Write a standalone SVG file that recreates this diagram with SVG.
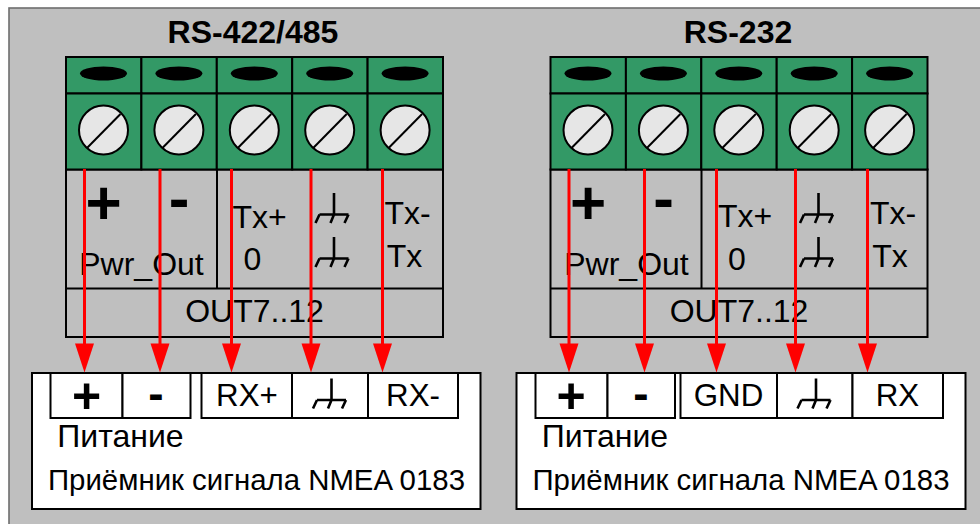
<svg xmlns="http://www.w3.org/2000/svg" width="980" height="524" viewBox="0 0 980 524">
<style>
text{font-family:"Liberation Sans",Arial,sans-serif;font-size:32px;fill:#000;text-anchor:middle}
.b{font-weight:bold}
.pl{font-weight:bold;font-size:62px}
.mi{font-weight:bold;font-size:62px}
.rpl{font-weight:bold;font-size:50px}
.rmi{font-weight:bold;font-size:46px}
.sm{font-size:31.3px}
.pt{font-size:32px}
.nm{font-size:29.4px}
.ln{fill:none;stroke:#000;stroke-width:2}
.g{fill:#339966;stroke:#000;stroke-width:2}
.w{fill:#fff;stroke:#000;stroke-width:2}
.wire{fill:none;stroke:#f00;stroke-width:3}
.gnd{fill:none;stroke:#000;stroke-width:2.6}
</style>
<defs>
<g id="slot"><rect class="g" width="75.4" height="36.5"/><ellipse cx="37.5" cy="16.5" rx="23.5" ry="7" fill="#000"/></g>
<g id="screw"><rect class="g" width="75.4" height="76"/><circle cx="37.5" cy="36.5" r="24.5" fill="#e6e6e6" stroke="#000" stroke-width="2"/><path d="M21 54.5L54.5 20.5" stroke="#000" stroke-width="2"/></g>
<path id="ground" class="gnd" d="M0 0V21.5L-3.5 30M-14.5 21.5H14.5M-14.5 21.5L-18.5 30M14.5 21.5L10.5 30"/>
<path id="head" d="M-9.5 0H9.5L0 29Z" fill="#f00"/>
</defs>
<rect x="9" y="8" width="980" height="530" fill="#bfbfbf" stroke="#6e6e6e" stroke-width="1.6"/>
<text id="title-left" class="b" x="253" y="43">RS-422/485</text>
<text id="title-right" class="b" x="738" y="43">RS-232</text>

<g id="block-left">
<rect class="ln" x="66" y="169.5" width="377" height="167.5"/>
<path class="ln" d="M66 288.5H443M217 169.5V288.5"/>
<use href="#slot" x="66" y="57"/><use href="#slot" x="141.4" y="57"/><use href="#slot" x="216.8" y="57"/><use href="#slot" x="292.2" y="57"/><use href="#slot" x="367.6" y="57"/>
<use href="#screw" x="66" y="93.5"/><use href="#screw" x="141.4" y="93.5"/><use href="#screw" x="216.8" y="93.5"/><use href="#screw" x="292.2" y="93.5"/><use href="#screw" x="367.6" y="93.5"/>
<text class="pl" x="103.5" y="224">+</text>
<text class="mi" x="179" y="219">-</text>
<text x="259.5" y="228">Tx+</text>
<text x="252.5" y="270">0</text>
<text x="407.5" y="224">Tx-</text>
<text x="404.5" y="267">Tx</text>
<use href="#ground" x="334" y="193"/><use href="#ground" x="334" y="237"/>
<text x="141.5" y="275">Pwr_Out</text>
<text x="254.5" y="322">OUT7..12</text>
</g>

<g id="block-right">
<rect class="ln" x="550.5" y="169.5" width="377" height="167.5"/>
<path class="ln" d="M550.5 288.5H927.5M701.5 169.5V288.5"/>
<use href="#slot" x="550.5" y="57"/><use href="#slot" x="625.9" y="57"/><use href="#slot" x="701.3" y="57"/><use href="#slot" x="776.7" y="57"/><use href="#slot" x="852.1" y="57"/>
<use href="#screw" x="550.5" y="93.5"/><use href="#screw" x="625.9" y="93.5"/><use href="#screw" x="701.3" y="93.5"/><use href="#screw" x="776.7" y="93.5"/><use href="#screw" x="852.1" y="93.5"/>
<text class="pl" x="588" y="224">+</text>
<text class="mi" x="663.5" y="219">-</text>
<text x="745" y="227">Tx+</text>
<text x="737" y="270">0</text>
<text x="893" y="224">Tx-</text>
<text x="890" y="267">Tx</text>
<use href="#ground" x="818.5" y="193"/><use href="#ground" x="818.5" y="237"/>
<text x="626.5" y="275">Pwr_Out</text>
<text x="739" y="322">OUT7..12</text>
</g>

<g id="receiver-left">
<rect class="w" x="32" y="373" width="448.5" height="136"/>
<rect class="w" x="50.5" y="373" width="72" height="45"/><rect class="w" x="122.5" y="373" width="68" height="45"/>
<rect class="w" x="201.5" y="373" width="90.5" height="45"/><rect class="w" x="292" y="373" width="76" height="45"/><rect class="w" x="368" y="373" width="90" height="45"/>
<text class="rpl" x="86.5" y="413">+</text>
<text class="rmi" x="156" y="409">-</text>
<text class="sm" x="247" y="406">RX+</text>
<text class="sm" x="413" y="406">RX-</text>
<use href="#ground" x="331.5" y="378.5"/>
<text class="pt" x="120.5" y="447">Питание</text>
<text class="nm" x="256.5" y="490">Приёмник сигнала NMEA 0183</text>
</g>

<g id="receiver-right">
<rect class="w" x="516.5" y="373" width="449" height="136"/>
<rect class="w" x="535.5" y="373" width="72" height="45"/><rect class="w" x="607.5" y="373" width="67.5" height="45"/>
<rect class="w" x="680.5" y="373" width="96.5" height="45"/><rect class="w" x="777" y="373" width="75.5" height="45"/><rect class="w" x="852.5" y="373" width="90.5" height="45"/>
<text class="rpl" x="571" y="413">+</text>
<text class="rmi" x="641" y="409">-</text>
<text class="sm" x="728.5" y="406">GND</text>
<text class="sm" x="897.5" y="406">RX</text>
<use href="#ground" x="816" y="378.5"/>
<text class="pt" x="605" y="447">Питание</text>
<text class="nm" x="741" y="490">Приёмник сигнала NMEA 0183</text>
</g>

<g id="connectors">
<path class="wire" d="M84.5 169V344M160 169V344M231.5 169V344M311 169V344M382.5 169V344M569 169V344M644.5 169V344M716.5 169V344M795.5 169V344M867.5 169V344"/>
<use href="#head" x="84.5" y="343.5"/><use href="#head" x="160" y="343.5"/><use href="#head" x="231.5" y="343.5"/><use href="#head" x="311" y="343.5"/><use href="#head" x="382.5" y="343.5"/>
<use href="#head" x="569" y="343.5"/><use href="#head" x="644.5" y="343.5"/><use href="#head" x="716.5" y="343.5"/><use href="#head" x="795.5" y="343.5"/><use href="#head" x="867.5" y="343.5"/>
</g>
</svg>
